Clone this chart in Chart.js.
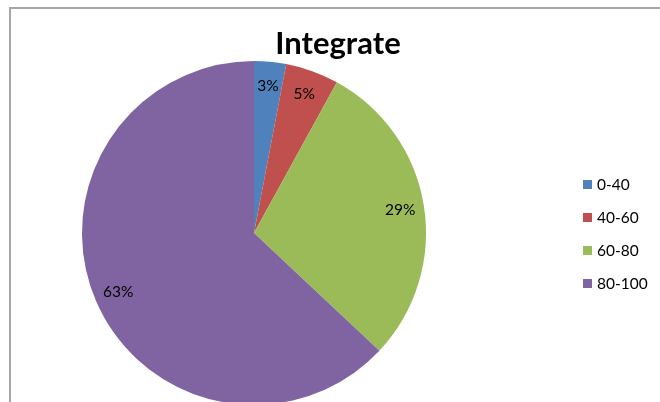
<!DOCTYPE html>
<html>
<head>
<meta charset="utf-8">
<script src="https://cdn.jsdelivr.net/npm/chart.js@4"></script>
<style>
  html, body { margin: 0; padding: 0; background: #fff; }
  #wrap { position: relative; width: 660px; height: 402px; overflow: hidden; }
  #frame {
    position: absolute; left: 9px; top: 7px; width: 700px; height: 500px;
    border-left: 2px solid #a6a6a6; border-top: 2px solid #a6a6a6;
  }
  canvas { position: absolute; left: 0; top: 0; }
</style>
</head>
<body>
<div id="wrap">
  <div id="frame"></div>
  <canvas id="pie" width="660" height="410"></canvas>
</div>
<script>
// --- data ---
const categories = ["0-40", "40-60", "60-80", "80-100"];
const shares = [3, 5, 29, 63];
const colors = ["#4F81BD", "#C0504D", "#9BBB59", "#8064A2"];

const FONT = "Lato, 'Open Sans', sans-serif";

// percentage labels sit inside each slice, along its middle angle
const sliceLabels = {
  id: "sliceLabels",
  afterDatasetsDraw(chart) {
    const ctx = chart.ctx;
    const arcs = chart.getDatasetMeta(0).data;
    const total = shares.reduce((a, b) => a + b, 0);
    ctx.save();
    ctx.font = "15.5px " + FONT;
    ctx.fillStyle = "#000";
    ctx.textAlign = "center";
    ctx.textBaseline = "middle";
    arcs.forEach((arc, i) => {
      const p = arc.getProps(["x", "y", "startAngle", "endAngle", "outerRadius"], true);
      const mid = (p.startAngle + p.endAngle) / 2;
      const r = p.outerRadius * 0.86;
      const txt = Math.round(shares[i] / total * 100) + "%";
      ctx.fillText(txt, p.x + Math.cos(mid) * r, p.y + Math.sin(mid) * r);
    });
    ctx.restore();
  }
};

const titleAndKey = {
  id: "titleAndKey",
  afterDraw(chart) {
    const ctx = chart.ctx;
    ctx.save();
    ctx.fillStyle = "#000";
    ctx.font = "bold 31px " + FONT;
    ctx.textAlign = "center";
    ctx.textBaseline = "alphabetic";
    ctx.fillText("Integrate", 338, 54);

    ctx.font = "15.5px " + FONT;
    ctx.textAlign = "left";
    ctx.textBaseline = "middle";
    categories.forEach((c, i) => {
      const y = 185 + i * 33;
      ctx.fillStyle = colors[i];
      ctx.fillRect(583, y - 5, 9, 9);
      ctx.fillStyle = "#000";
      ctx.fillText(c, 597, y);
    });
    ctx.restore();
  }
};

new Chart(document.getElementById("pie"), {
  type: "pie",
  data: {
    labels: categories,
    datasets: [{
      data: shares,
      backgroundColor: colors,
      borderWidth: 0
    }]
  },
  options: {
    responsive: false,
    animation: false,
    layout: { padding: { left: 82, right: 234, top: 61, bottom: 5 } },
    plugins: {
      legend: { display: false },
      tooltip: { enabled: false },
      title: { display: false }
    }
  },
  plugins: [sliceLabels, titleAndKey]
});
</script>
</body>
</html>
